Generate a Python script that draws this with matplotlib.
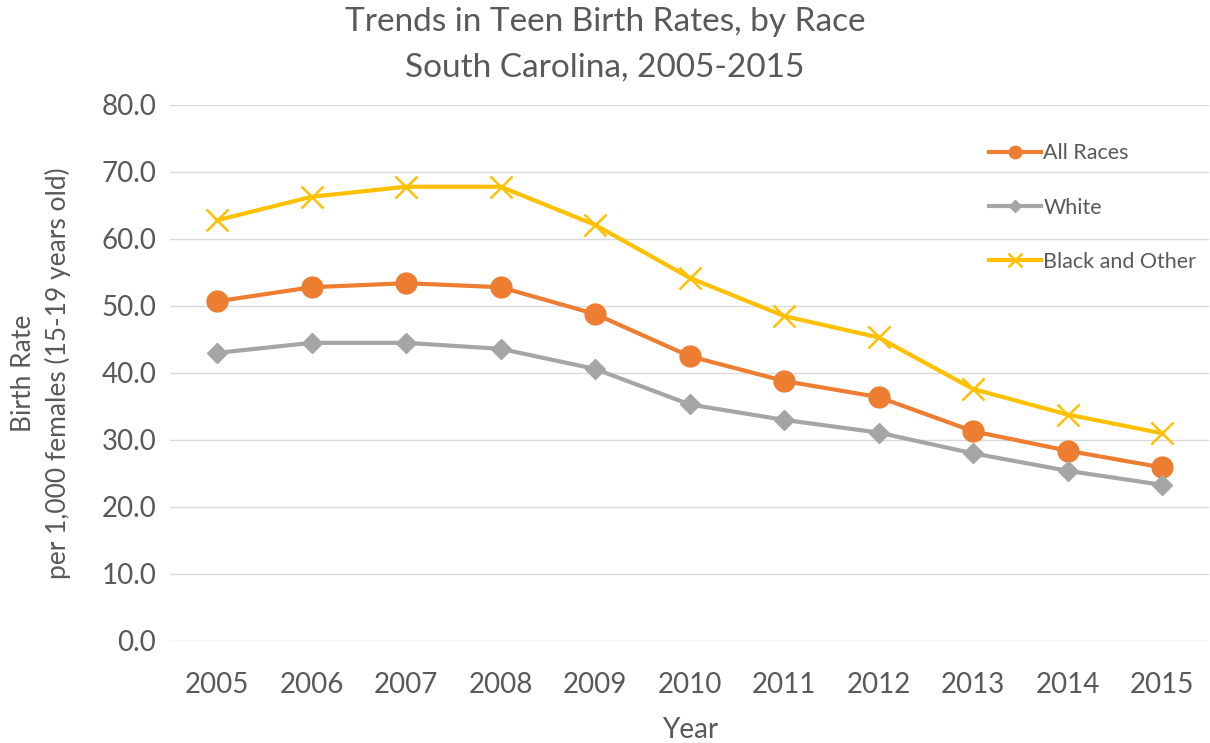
import matplotlib.pyplot as plt

plt.rcParams['font.family'] = ['Lato', 'DejaVu Sans']

years = [2005, 2006, 2007, 2008, 2009, 2010, 2011, 2012, 2013, 2014, 2015]
all_races = [50.7, 52.8, 53.4, 52.8, 48.8, 42.5, 38.8, 36.4, 31.3, 28.4, 25.9]
white = [43.0, 44.5, 44.5, 43.6, 40.6, 35.3, 33.0, 31.1, 28.0, 25.4, 23.3]
black_other = [62.8, 66.3, 67.8, 67.8, 62.1, 54.2, 48.5, 45.3, 37.6, 33.8, 31.0]

x = list(range(len(years)))
text_col = '#595959'

fig = plt.figure(figsize=(12.1, 7.43), dpi=100)
ax = fig.add_axes([0.1405, 0.1373, 0.859, 0.7214])

ax.plot(x, all_races, color='#ED7D31', linewidth=3, marker='o', markersize=15, label='All Races')
ax.plot(x, white, color='#A5A5A5', linewidth=3, marker='D', markersize=10, label='White')
ax.plot(x, black_other, color='#FFC000', linewidth=3, marker='x', markersize=16,
        markeredgewidth=1.8, label='Black and Other')

ax.set_xlim(-0.5, len(years) - 0.5)
ax.set_ylim(0, 80)
ax.set_yticks(range(0, 81, 10))
ax.set_yticklabels([f'{v:.1f}' for v in range(0, 81, 10)])
ax.set_xticks(x)
ax.set_xticklabels([str(y) for y in years])
ax.grid(axis='y', color='#D9D9D9', linewidth=1)
ax.set_axisbelow(True)
for s in ax.spines.values():
    s.set_visible(False)
ax.tick_params(length=0, labelsize=20, colors=text_col)
ax.tick_params(axis='y', pad=10)
ax.tick_params(axis='x', pad=22)

ax.set_xlabel('Year', fontsize=20, color=text_col, labelpad=14)
ax.set_ylabel('Birth Rate\nper 1,000 females (15-19 years old)', fontsize=19, color=text_col,
              labelpad=22, linespacing=1.4)
fig.suptitle('Trends in Teen Birth Rates, by Race\nSouth Carolina, 2005-2015', fontsize=24,
             color=text_col, y=0.99, linespacing=1.65)

leg = ax.legend(loc='upper right', bbox_to_anchor=(1.006, 0.965), frameon=False, fontsize=15.5,
                labelcolor=text_col, handlelength=2.4, handletextpad=0.1, labelspacing=1.6,
                markerscale=0.6)

plt.savefig('out.png', dpi=100)
